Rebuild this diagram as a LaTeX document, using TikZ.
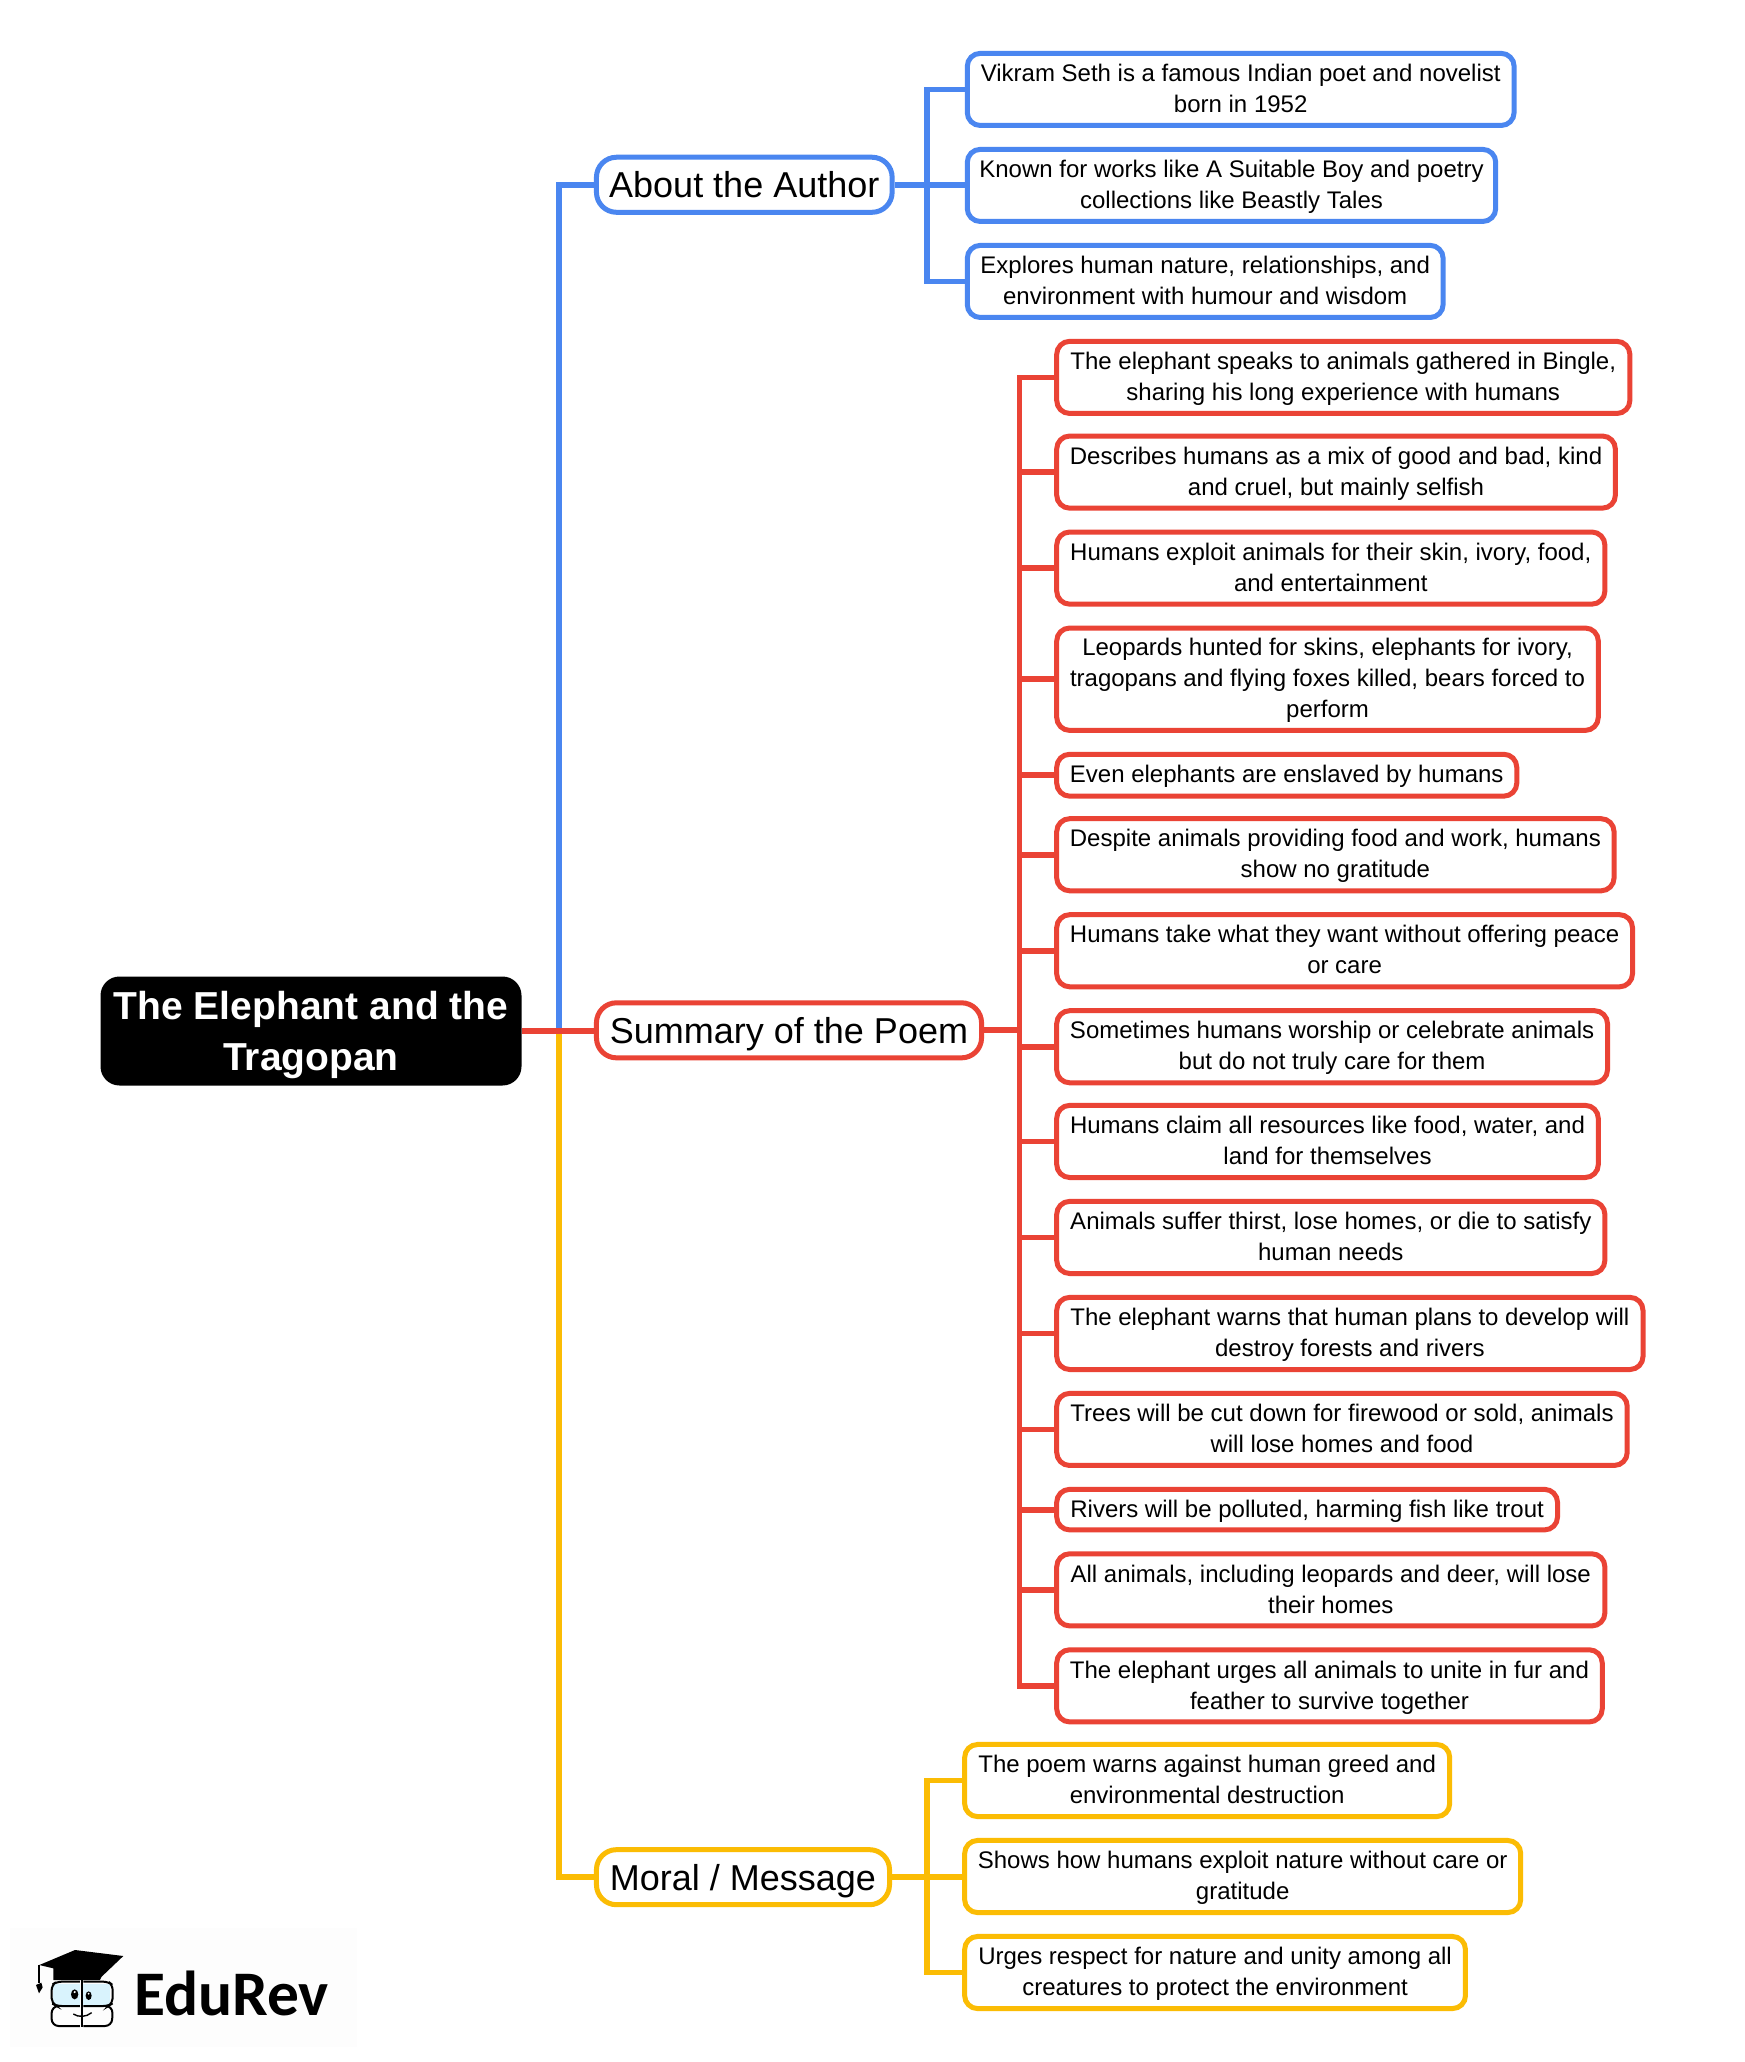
\documentclass[tikz,border=0pt]{standalone}
\usepackage{fontspec}
\setmainfont{Liberation Sans}
\newfontfamily\logofont{Carlito}
\definecolor{cblue}{HTML}{4A86F0}
\definecolor{cred}{HTML}{EA4335}
\definecolor{cyel}{HTML}{FBBC04}
\tikzset{
 boxbase/.style={draw,fill=white,rounded corners=13pt,inner sep=0pt,text=black,line width=5pt},
 leafb/.style={boxbase,draw=cblue,font=\fontsize{24}{31}\selectfont},
 leafr/.style={boxbase,draw=cred,font=\fontsize{24}{31}\selectfont},
 leafy/.style={boxbase,draw=cyel,font=\fontsize{24}{31}\selectfont},
 bran/.style={boxbase,font=\fontsize{36}{46}\selectfont,rounded corners=20pt},
 rootbox/.style={fill=black,rounded corners=19pt,inner sep=0pt,text=white,font=\fontsize{39}{51}\bfseries\selectfont},
 lnk/.style={line width=5.8pt},
}
\newcommand{\cellT}[2]{\raisebox{#1}[\height][\depth]{\begin{tabular}{@{}c@{}}#2\end{tabular}}}
\def\curshift{-1.5pt}
% #1 name, #2 style, #3 x0, #4 x1, #5 y0, #6 y1 (in the 1327-wide scale), #7 text
\newcommand{\bx}[7]{%
 \pgfmathsetmacro{\cxx}{(#3+#4)/2*1.315}%
 \pgfmathsetmacro{\cyy}{(#5+#6)/2*1.315}%
 \pgfmathsetmacro{\ww}{(#4-#3)*1.315-1.5}%
 \pgfmathsetmacro{\hh}{(#6-#5)*1.315-1.5}%
 \node[#2,minimum width=\ww pt,minimum height=\hh pt] (#1) at (\cxx,\cyy) {\cellT{\curshift}{#7}};%
}
\begin{document}
\begin{tikzpicture}[x=1pt,y=-1pt]
\useasboundingbox (0,0) rectangle (1745,2062);
\fill[white] (0,0) rectangle (1745,2062);
% spines
\coordinate (sp) at (559,1031);
\coordinate (spb) at (927,185);
\coordinate (spr) at (1019.5,1031);
\coordinate (spy) at (927,1877);
% nodes
\node[rootbox,minimum width=421pt,minimum height=109pt] (root) at (311,1031) {\cellT{-4pt}{The Elephant and the\\Tragopan}};
\def\curshift{-4pt}
\bx{about}{bran,draw=cblue}{453}{679}{119}{162}{About the Author}
\bx{summary}{bran,draw=cred}{453}{747}{762}{805}{Summary of the Poem}
\bx{moral}{bran,draw=cyel}{453}{677}{1406}{1449}{Moral / Message}
\def\curshift{-1.5pt}
\bx{b1}{leafb}{735}{1152}{40}{96}{Vikram Seth is a famous Indian poet and novelist\\born in 1952}
\bx{b2}{leafb}{735}{1138}{113}{169}{Known for works like A Suitable Boy and poetry\\collections like Beastly Tales}
\bx{b3}{leafb}{735}{1098}{186}{242}{Explores human nature, relationships, and\\environment with humour and wisdom}
\bx{r1}{leafr}{803}{1240}{259}{315}{The elephant speaks to animals gathered in Bingle,\\sharing his long experience with humans}
\bx{r2}{leafr}{803}{1229}{331}{387}{Describes humans as a mix of good and bad, kind\\and cruel, but mainly selfish}
\bx{r3}{leafr}{803}{1221}{404}{460}{Humans exploit animals for their skin, ivory, food,\\and entertainment}
\bx{r4}{leafr}{803}{1216}{477}{556}{Leopards hunted for skins, elephants for ivory,\\tragopans and flying foxes killed, bears forced to\\perform}
\bx{r5}{leafr}{803}{1154}{573}{606}{Even elephants are enslaved by humans}
\bx{r6}{leafr}{803}{1228}{622}{678}{Despite animals providing food and work, humans\\show no gratitude}
\bx{r7}{leafr}{803}{1242}{695}{751}{Humans take what they want without offering peace\\or care}
\bx{r8}{leafr}{803}{1223}{768}{824}{Sometimes humans worship or celebrate animals\\but do not truly care for them}
\bx{r9}{leafr}{803}{1216}{840}{896}{Humans claim all resources like food, water, and\\land for themselves}
\bx{r10}{leafr}{803}{1221}{913}{969}{Animals suffer thirst, lose homes, or die to satisfy\\human needs}
\bx{r11}{leafr}{803}{1250}{986}{1042}{The elephant warns that human plans to develop will\\destroy forests and rivers}
\bx{r12}{leafr}{803}{1238}{1059}{1115}{Trees will be cut down for firewood or sold, animals\\will lose homes and food}
\bx{r13}{leafr}{803}{1185}{1132}{1164}{Rivers will be polluted, harming fish like trout}
\bx{r14}{leafr}{803}{1221}{1181}{1237}{All animals, including leopards and deer, will lose\\their homes}
\bx{r15}{leafr}{803}{1219}{1254}{1310}{The elephant urges all animals to unite in fur and\\feather to survive together}
\bx{y1}{leafy}{733}{1103}{1326}{1382}{The poem warns against human greed and\\environmental destruction}
\bx{y2}{leafy}{733}{1157}{1399}{1455}{Shows how humans exploit nature without care or\\gratitude}
\bx{y3}{leafy}{733}{1115}{1472}{1528}{Urges respect for nature and unity among all\\creatures to protect the environment}
% connectors
\draw[lnk,cblue] (sp) |- (about.west);
\draw[lnk,cyel] (sp) |- (moral.west);
\draw[lnk,cred] (root.east) -- (root.east -| summary.west);
\draw[lnk,cblue] (about.east) -- (about.east -| b2.west);
\draw[lnk,cblue] (spb |- b1.west) -- (b1.west);
\draw[lnk,cblue] (spb |- b3.west) -- (b3.west);
\draw[lnk,cblue,line cap=rect] (spb |- b1.west) -- (spb |- b3.west);
\draw[lnk,cyel] (moral.east) -- (moral.east -| y2.west);
\draw[lnk,cyel] (spy |- y1.west) -- (y1.west);
\draw[lnk,cyel] (spy |- y3.west) -- (y3.west);
\draw[lnk,cyel,line cap=rect] (spy |- y1.west) -- (spy |- y3.west);
\draw[lnk,cred] (summary.east) -- (summary.east -| spr);
\draw[lnk,cred,line cap=rect] (spr |- r1.west) -- (spr |- r15.west);
\foreach \n in {r1,r2,r3,r4,r5,r6,r7,r8,r9,r10,r11,r12,r13,r14,r15}{
 \draw[lnk,cred] (spr |- \n.west) -- (\n.west);
}
% logo
\fill[black!0.6] (10,1928) rectangle (357,2047);
\node[anchor=base west,inner sep=0pt,font=\logofont\fontsize{63.5}{64}\bfseries\selectfont] (brand) at (134,2015.5) {EduRev};
\begin{scope}[shift={(0,1900)},x=0.3333pt,y=-0.3333pt]
\fill[black] (118,195) -- (225,150) -- (370,168) -- (305,230) -- (300,240) -- (160,240) -- (160,205) -- cycle;
\draw[black,line width=1.4pt] (117,195) -- (117,250);
\fill[black] (108,255) -- (124,248) -- (128,262) -- (117,280) -- cycle;
\fill[cyan!15!white] (160,252) -- (240,252) -- (240,315) -- (160,315) -- cycle;
\fill[cyan!15!white] (250,252) -- (330,252) -- (330,315) -- (250,315) -- cycle;
\draw[black,line width=2pt,rounded corners=5pt] (240,245) -- (170,245) -- (155,255) -- (155,310) -- (170,318) -- (240,318);
\draw[black,line width=2pt,rounded corners=5pt] (250,245) -- (325,245) -- (338,255) -- (338,310) -- (325,318) -- (250,318);
\draw[black,line width=2pt,rounded corners=7pt] (240,378) -- (155,378) -- (155,318) -- (170,318);
\draw[black,line width=2pt,rounded corners=7pt] (250,378) -- (336,378) -- (338,318) -- (325,318);
\draw[black,line width=2pt] (245,240) -- (245,380);
\draw[black,line width=1.2pt] (190,232) .. controls (205,215) and (225,225) .. (232,232);
\draw[black,line width=1.2pt] (258,232) .. controls (270,220) and (290,222) .. (300,232);
\fill[black] (224,283) ellipse [x radius=11,y radius=15];
\fill[black] (266,287) ellipse [x radius=9,y radius=13];
\fill[white] (224,276) circle (3.5);
\fill[white] (266,281) circle (3);
\draw[black,line width=1.4pt] (220,342) .. controls (235,352) and (258,352) .. (275,338);
\end{scope}
\end{tikzpicture}
\end{document}
